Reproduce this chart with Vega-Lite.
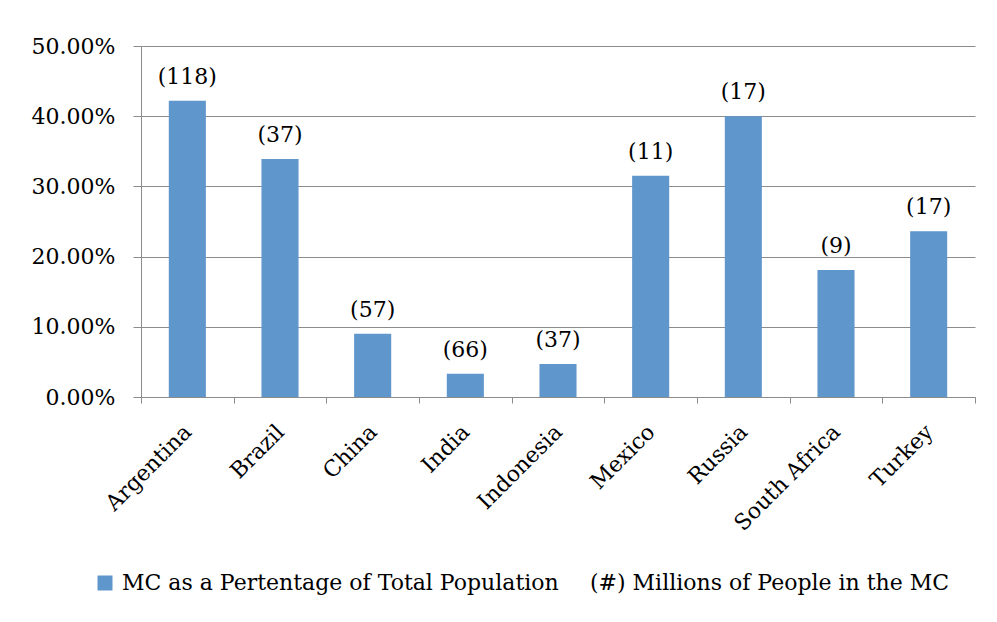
{
  "$schema": "https://vega.github.io/schema/vega-lite/v6.json",
  "width": 834,
  "height": 351,
  "autosize": {"type": "none"},
  "padding": {"left": 141, "top": 46, "right": 22, "bottom": 225},
  "background": "white",
  "config": {"view": {"stroke": null}, "font": "DejaVu Serif"},
  "data": {
    "values": [
      {"country": "Argentina", "pct": 0.422, "label": "(118)"},
      {"country": "Brazil", "pct": 0.339, "label": "(37)"},
      {"country": "China", "pct": 0.09, "label": "(57)"},
      {"country": "India", "pct": 0.033, "label": "(66)"},
      {"country": "Indonesia", "pct": 0.047, "label": "(37)"},
      {"country": "Mexico", "pct": 0.315, "label": "(11)"},
      {"country": "Russia", "pct": 0.40, "label": "(17)"},
      {"country": "South Africa", "pct": 0.181, "label": "(9)"},
      {"country": "Turkey", "pct": 0.236, "label": "(17)"}
    ]
  },
  "encoding": {
    "x": {
      "field": "country",
      "type": "nominal",
      "sort": null,
      "scale": {"paddingInner": 0, "paddingOuter": 0},
      "axis": {
        "title": null,
        "labelAngle": -45,
        "labelFontSize": 22,
        "labelColor": "black",
        "labelFont": "DejaVu Serif",
        "labelPadding": 18,
        "labelOffset": -7,
        "labelLimit": 0,
        "tickBand": "extent",
        "ticks": true,
        "tickSize": 6,
        "tickColor": "#8c8c8c",
        "domainColor": "#8c8c8c",
        "grid": false
      }
    }
  },
  "layer": [
    {
      "mark": {"type": "bar", "width": {"band": 0.4}},
      "encoding": {
        "y": {
          "field": "pct",
          "type": "quantitative",
          "scale": {"domain": [0, 0.5]},
          "axis": {
            "title": null,
            "values": [0, 0.1, 0.2, 0.3, 0.4, 0.5],
            "format": ".2%",
            "grid": true,
            "gridColor": "#8c8c8c",
            "tickSize": 8,
            "tickColor": "#8c8c8c",
            "domainColor": "#8c8c8c",
            "labelFontSize": 22,
            "labelColor": "black",
            "labelFont": "DejaVu Serif",
            "labelPadding": 18
          }
        },
        "color": {
          "datum": "MC as a Pertentage of Total Population",
          "scale": {
            "domain": ["MC as a Pertentage of Total Population", "(#) Millions of People in the MC"],
            "range": ["#5f96cb", "rgba(0,0,0,0)"]
          },
          "legend": {
            "title": null,
            "orient": "none",
            "legendX": -47,
            "legendY": 526,
            "direction": "horizontal",
            "symbolType": "square",
            "symbolSize": 225,
            "symbolStrokeWidth": 0,
            "labelFont": "DejaVu Serif",
            "labelFontSize": 22,
            "labelOffset": 6,
            "labelLimit": 0,
            "labelColor": "black",
            "columnPadding": 3
          }
        }
      }
    },
    {
      "mark": {"type": "text", "baseline": "bottom", "dy": -12, "fontSize": 22, "font": "DejaVu Serif", "color": "black"},
      "encoding": {
        "y": {"field": "pct", "type": "quantitative"},
        "text": {"field": "label"}
      }
    }
  ]
}
